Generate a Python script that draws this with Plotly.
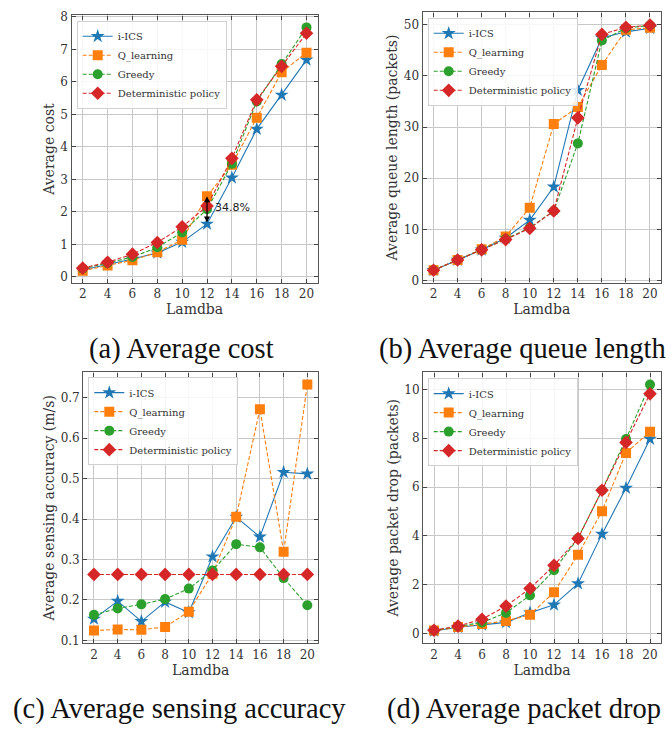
import plotly.graph_objects as go

lam = [2, 4, 6, 8, 10, 12, 14, 16, 18, 20]
series_names = ["i-ICS", "Q_learning", "Greedy", "Deterministic policy"]

cost_iics = [0.21, 0.37, 0.55, 0.74, 1.07, 1.63, 3.05, 4.55, 5.60, 6.68]
cost_q = [0.19, 0.35, 0.51, 0.76, 1.14, 2.48, 3.45, 4.90, 6.30, 6.90]
cost_greedy = [0.25, 0.42, 0.61, 0.91, 1.37, 2.08, 3.48, 5.40, 6.55, 7.68]
cost_det = [0.27, 0.45, 0.70, 1.06, 1.54, 2.18, 3.65, 5.45, 6.48, 7.50]

queue_iics = [2.0, 4.0, 6.0, 8.3, 11.8, 18.3, 37.2, 47.4, 48.6, 49.3]
queue_q = [2.0, 4.0, 6.1, 8.6, 14.2, 30.6, 33.9, 42.1, 49.0, 49.4]
queue_greedy = [2.0, 4.0, 6.0, 8.1, 10.3, 13.6, 26.8, 46.9, 49.3, 49.9]
queue_det = [2.0, 4.0, 6.0, 8.0, 10.2, 13.6, 31.8, 48.1, 49.5, 49.9]

acc_iics = [0.153, 0.197, 0.147, 0.195, 0.169, 0.307, 0.405, 0.356, 0.516, 0.512]
acc_q = [0.124, 0.127, 0.126, 0.133, 0.171, 0.265, 0.406, 0.672, 0.319, 0.733]
acc_greedy = [0.163, 0.179, 0.189, 0.202, 0.228, 0.273, 0.338, 0.330, 0.254, 0.187]
acc_det = [0.263, 0.263, 0.263, 0.263, 0.263, 0.263, 0.263, 0.263, 0.263, 0.263]

drop_iics = [0.10, 0.25, 0.35, 0.45, 0.85, 1.17, 2.04, 4.07, 5.96, 7.97]
drop_q = [0.12, 0.26, 0.38, 0.51, 0.76, 1.69, 3.22, 5.01, 7.40, 8.27]
drop_greedy = [0.12, 0.28, 0.45, 0.84, 1.56, 2.59, 3.90, 5.87, 7.97, 10.20]
drop_det = [0.13, 0.30, 0.58, 1.12, 1.84, 2.79, 3.89, 5.87, 7.83, 9.82]

y_titles = ["Average cost", "Average queue length (packets)",
            "Average sensing accuracy (m/s)", "Average packet drop (packets)"]
captions = ["(a) Average cost", "(b) Average queue length",
            "(c) Average sensing accuracy", "(d) Average packet drop"]
gain_label = "34.8%"

colors = ["#1f77b4", "#ff7f0e", "#2ca02c", "#d62728"]
symbols = ["star", "square", "circle", "diamond"]
msizes = [10.5, 10, 10, 10.5]
dashes = ["solid", "4px,2px", "4px,2px", "4px,2px"]

W, H = 671, 731
panels = [
    dict(data=[cost_iics, cost_q, cost_greedy, cost_det], xd=(71.5, 317.7), yd=(10.5, 281.6),
         yr=[-0.18, 8.05], ytv=[0, 1, 2, 3, 4, 5, 6, 7, 8], leg=(76.7, 16)),
    dict(data=[queue_iics, queue_q, queue_greedy, queue_det], xd=(422.7, 660.8), yd=(7.5, 281.4),
         yr=[-0.4, 52.4], ytv=[0, 10, 20, 30, 40, 50], leg=(427.7, 13)),
    dict(data=[acc_iics, acc_q, acc_greedy, acc_det], xd=(83.3, 318.0), yd=(372.5, 647.0),
         yr=[0.093, 0.763], ytv=[0.1, 0.2, 0.3, 0.4, 0.5, 0.6, 0.7], leg=(88.3, 377.3)),
    dict(data=[drop_iics, drop_q, drop_greedy, drop_det], xd=(423.2, 660.8), yd=(372.5, 647.0),
         yr=[-0.4, 10.7], ytv=[0, 2, 4, 6, 8, 10], leg=(427.7, 378.3)),
]
cap_pos = [(181, 349), (522, 349), (179, 714), (524, 714)]

serif = "DejaVu Serif"
fig = go.Figure()
layout = dict(width=W, height=H, margin=dict(l=0, r=0, t=0, b=0),
              paper_bgcolor="white", plot_bgcolor="white", showlegend=True,
              font=dict(family=serif, color="#333333", size=12))
annotations = []

for i, p in enumerate(panels):
    k = "" if i == 0 else str(i + 1)
    xa, ya = "x" + k, "y" + k
    legname = "legend" + k
    for j in range(4):
        fig.add_trace(go.Scatter(
            x=lam, y=p["data"][j], name=series_names[j], mode="lines+markers",
            xaxis=xa, yaxis=ya, legend=legname,
            line=dict(color=colors[j], width=1.1, dash=dashes[j]),
            marker=dict(symbol=symbols[j], size=msizes[j], color=colors[j]),
        ))
    x0, x1 = p["xd"]
    y0, y1 = p["yd"]
    axis_common = dict(showline=True, linecolor="#555555", linewidth=1.3, mirror="ticks",
                       ticks="inside", ticklen=4, tickwidth=1, tickcolor="#444444",
                       showgrid=True, gridcolor="#c8c8c8", gridwidth=1, zeroline=False,
                       tickfont=dict(family=serif, size=12, color="#333333"))
    layout["xaxis" + k] = dict(axis_common, domain=[x0 / W, x1 / W], anchor=ya,
                               range=[1.1, 20.9], tickvals=lam,
                               title=dict(text="Lamdba", standoff=2,
                                          font=dict(family=serif, size=14, color="#333333")))
    layout["yaxis" + k] = dict(axis_common, domain=[1 - y1 / H, 1 - y0 / H], anchor=xa,
                               range=p["yr"], tickvals=p["ytv"],
                               title=dict(text=y_titles[i], standoff=2,
                                          font=dict(family=serif, size=14, color="#333333")))
    lx, ly = p["leg"]
    layout[legname] = dict(x=lx / W, y=1 - ly / H, xanchor="left", yanchor="top",
                           xref="paper", yref="paper",
                           bgcolor="rgba(255,255,255,0.85)", bordercolor="#d0d0d0", borderwidth=1,
                           font=dict(family=serif, size=10, color="#333333"),
                           itemwidth=30, tracegroupgap=0)
    cx, cy = cap_pos[i]
    annotations.append(dict(text=captions[i], x=cx / W, y=1 - cy / H, xref="paper", yref="paper",
                            xanchor="center", yanchor="middle", showarrow=False,
                            font=dict(family="Liberation Serif", size=28.5, color="#111111")))

# double-headed arrow between i-ICS and Q_learning at lambda = 12
annotations.append(dict(x=lam[5], y=cost_q[5], ax=lam[5], ay=cost_iics[5],
                        xref="x", yref="y", axref="x", ayref="y", text="",
                        showarrow=True, arrowside="end+start", arrowhead=2, arrowsize=1,
                        arrowwidth=1.2, arrowcolor="black"))
annotations.append(dict(x=lam[5], y=(cost_q[5] + cost_iics[5]) / 2 + 0.08, xref="x", yref="y",
                        text=gain_label, showarrow=False, xanchor="left", yanchor="middle",
                        xshift=6, font=dict(family="DejaVu Sans", size=11, color="#222222")))

layout["annotations"] = annotations
fig.update_layout(**layout)
fig.write_html("out.html")
